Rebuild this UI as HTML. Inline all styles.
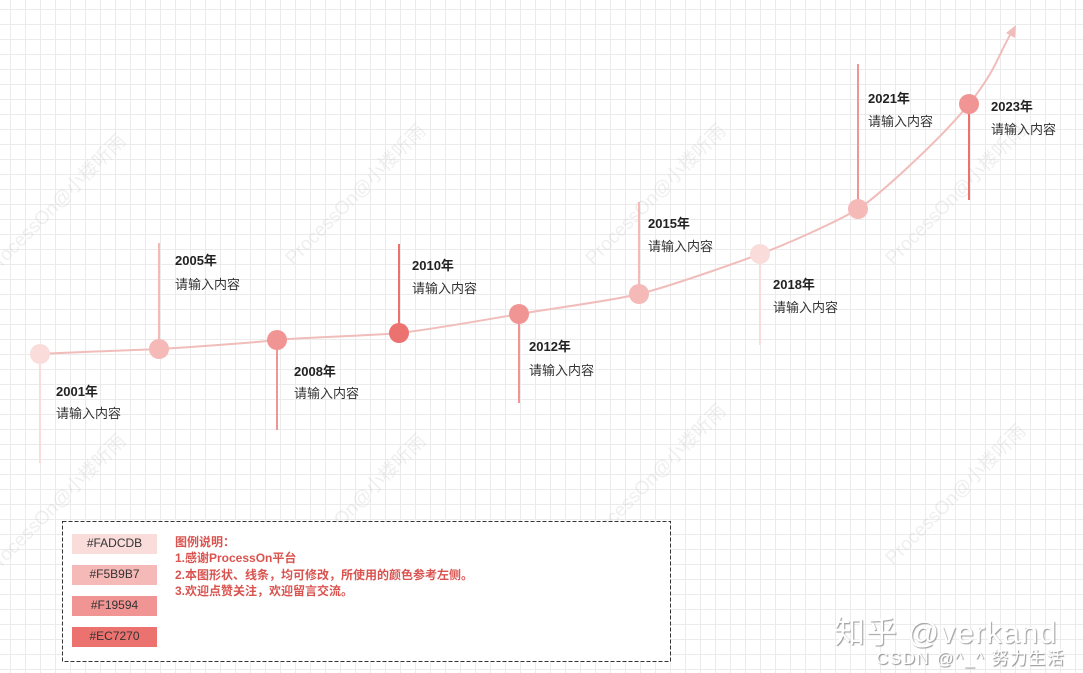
<!DOCTYPE html>
<html><head><meta charset="utf-8"><style>
html,body{margin:0;padding:0;}
body{width:1083px;height:673px;overflow:hidden;position:relative;background:#fff;
background-image:linear-gradient(#ebebeb 1px,transparent 1px),linear-gradient(90deg,#ebebeb 1px,transparent 1px);
background-size:15px 15px;background-position:0 9px,10px 0;
font-family:"Liberation Sans","Noto Sans CJK SC",sans-serif;}
.t{position:absolute;font-size:13px;color:#333;white-space:nowrap;}
.y{font-weight:bold;color:#222;}
.wm{position:absolute;font-size:19px;color:rgba(190,190,190,0.25);transform:rotate(-45deg);white-space:nowrap;}
</style></head><body>
<div class="wm" style="left:-40px;top:190px">ProcessOn@小楼听雨</div>
<div class="wm" style="left:260px;top:180px">ProcessOn@小楼听雨</div>
<div class="wm" style="left:560px;top:180px">ProcessOn@小楼听雨</div>
<div class="wm" style="left:860px;top:180px">ProcessOn@小楼听雨</div>
<div class="wm" style="left:-40px;top:490px">ProcessOn@小楼听雨</div>
<div class="wm" style="left:260px;top:490px">ProcessOn@小楼听雨</div>
<div class="wm" style="left:560px;top:460px">ProcessOn@小楼听雨</div>
<div class="wm" style="left:860px;top:480px">ProcessOn@小楼听雨</div>
<svg width="1083" height="673" style="position:absolute;left:0;top:0">
<g stroke-width="2">
<line x1="40" y1="354" x2="40" y2="463" stroke="#FADCDB"/>
<line x1="159" y1="349" x2="159" y2="243" stroke="#F5B9B7"/>
<line x1="277" y1="340" x2="277" y2="430" stroke="#F19594"/>
<line x1="399" y1="333" x2="399" y2="244" stroke="#EC7270"/>
<line x1="519" y1="314" x2="519" y2="403" stroke="#F19594"/>
<line x1="639" y1="294" x2="639" y2="202" stroke="#F5B9B7"/>
<line x1="760" y1="254" x2="760" y2="345" stroke="#FADCDB"/>
<line x1="858" y1="209" x2="858" y2="64" stroke="#F19594"/>
<line x1="969" y1="104" x2="969" y2="200" stroke="#EC7270"/>
</g>
<path d="M40 354 C100 351,140 350,159 349 S250 343,277 340 S370 336,399 333 S490 319,519 314 S610 301,639 294 S730 265,760 254 S840 220,858 209 S940 140,969 104 S1000 50,1012 32" fill="none" stroke="#F0BDBA" stroke-width="2"/>
<polygon points="1016,25 1006,33 1015,38" fill="#F0BDBA"/>
<circle cx="40" cy="354" r="10" fill="#FADCDB"/>
<circle cx="159" cy="349" r="10" fill="#F5B9B7"/>
<circle cx="277" cy="340" r="10" fill="#F19594"/>
<circle cx="399" cy="333" r="10" fill="#EC7270"/>
<circle cx="519" cy="314" r="10" fill="#F19594"/>
<circle cx="639" cy="294" r="10" fill="#F5B9B7"/>
<circle cx="760" cy="254" r="10" fill="#FADCDB"/>
<circle cx="858" cy="209" r="10" fill="#F5B9B7"/>
<circle cx="969" cy="104" r="10" fill="#F19594"/>
<rect x="62.5" y="521.5" width="608" height="140" fill="#fff" stroke="#333" stroke-dasharray="4,2"/>
<rect x="72" y="534" width="85" height="20" fill="#FADCDB"/>
<rect x="72" y="565" width="85" height="20" fill="#F5B9B7"/>
<rect x="72" y="596" width="85" height="20" fill="#F19594"/>
<rect x="72" y="627" width="85" height="20" fill="#EC7270"/>
</svg>
<div class="t y" style="left:56px;top:381px">2001年</div><div class="t" style="left:56px;top:403px">请输入内容</div>
<div class="t y" style="left:175px;top:250px">2005年</div><div class="t" style="left:175px;top:274px">请输入内容</div>
<div class="t y" style="left:294px;top:361px">2008年</div><div class="t" style="left:294px;top:383px">请输入内容</div>
<div class="t y" style="left:412px;top:255px">2010年</div><div class="t" style="left:412px;top:278px">请输入内容</div>
<div class="t y" style="left:529px;top:336px">2012年</div><div class="t" style="left:529px;top:360px">请输入内容</div>
<div class="t y" style="left:648px;top:213px">2015年</div><div class="t" style="left:648px;top:236px">请输入内容</div>
<div class="t y" style="left:773px;top:274px">2018年</div><div class="t" style="left:773px;top:297px">请输入内容</div>
<div class="t y" style="left:868px;top:88px">2021年</div><div class="t" style="left:868px;top:111px">请输入内容</div>
<div class="t y" style="left:991px;top:96px">2023年</div><div class="t" style="left:991px;top:119px">请输入内容</div>
<div class="t" style="left:72px;top:536px;width:85px;text-align:center;font-size:12px">#FADCDB</div>
<div class="t" style="left:72px;top:567px;width:85px;text-align:center;font-size:12px">#F5B9B7</div>
<div class="t" style="left:72px;top:598px;width:85px;text-align:center;font-size:12px">#F19594</div>
<div class="t" style="left:72px;top:629px;width:85px;text-align:center;font-size:12px">#EC7270</div>
<div class="t" style="left:175px;top:534px;font-size:12px;font-weight:bold;color:#D9534F;line-height:16.3px">图例说明：<br>1.感谢ProcessOn平台<br>2.本图形状、线条，均可修改，所使用的颜色参考左侧。<br>3.欢迎点赞关注，欢迎留言交流。</div>
<div class="t" style="left:834px;top:607px;font-size:31px;letter-spacing:1px;color:#fff;text-shadow:1px 1px 1px #999">知乎 @verkand</div>
<div class="t" style="left:876px;top:644px;font-size:17px;letter-spacing:1.5px;color:#fff;text-shadow:1px 1px 1px #888">CSDN @^_^ 努力生活</div>
</body></html>
